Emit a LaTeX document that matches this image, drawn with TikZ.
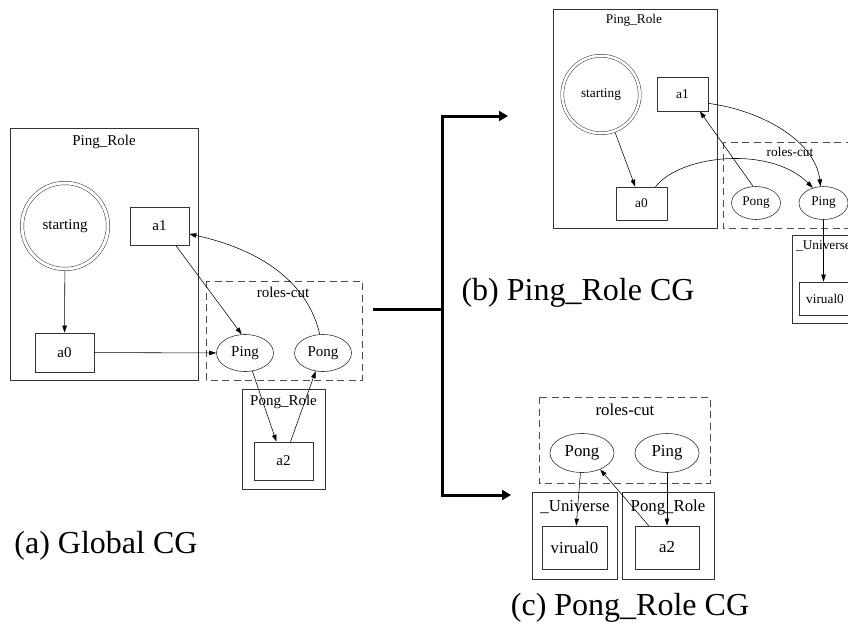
\documentclass[tikz,border=0pt]{standalone}
\usepackage{fontspec}
\setmainfont{Liberation Serif}
\usetikzlibrary{arrows.meta,shapes.geometric}
\begin{document}
\begin{tikzpicture}[x=1pt,y=-1pt,
  ln/.style={draw=black!80, line width=0.6pt},
  cluster/.style={ln},
  cutbox/.style={draw=black!70, line width=0.6pt, dash pattern=on 7pt off 4.5pt},
  box/.style={ln, rectangle, inner sep=0pt},
  oval/.style={ln, ellipse, inner sep=0pt},
  startc/.style={draw=black!80, line width=0.5pt, circle, double, double distance=3pt, inner sep=0pt, outer sep=2pt},
  edge/.style={draw=black, line width=0.55pt, -{Triangle[length=7pt,width=4.5pt]}},
  big/.style={font=\fontsize{32}{36}\selectfont, inner sep=0pt, anchor=base},
  fa/.style={font=\fontsize{15}{17}\selectfont},
  fb/.style={font=\fontsize{13.3}{15}\selectfont},
  fc/.style={font=\fontsize{16.8}{19}\selectfont},
  bigarrow/.style={line width=3pt, -{Triangle[length=9pt,width=10pt]}}
]
\useasboundingbox (0,0) rectangle (848,624);
\clip (0,0) rectangle (848,624);

% ---------- (a) Global CG ----------
\draw[cluster] (10,128) rectangle (198,380);
\node[fa, anchor=base, inner sep=0pt] (lprA) at (104,145) {Ping\_Role};
\node[startc, fa, minimum size=86pt] (sA) at (65,226) {starting};
\node[box, fa, minimum width=59pt, minimum height=38pt] (a1A) at (159.5,226) {a1};
\node[box, fa, minimum width=59pt, minimum height=39pt] (a0A) at (64.5,352.5) {a0};
\draw[cutbox] (206,281) rectangle (362,380);
\node[fa, anchor=base, inner sep=0pt] (lrcA) at (283,297) {roles-cut};
\node[oval, fa, minimum width=57pt, minimum height=37pt] (piA) at (245,353) {Ping};
\node[oval, fa, minimum width=57pt, minimum height=37pt] (poA) at (323,353) {Pong};
\draw[cluster] (242,389) rectangle (325,489);
\node[fa, anchor=base, inner sep=0pt] (lporA) at (283.5,405) {Pong\_Role};
\node[box, fa, minimum width=59pt, minimum height=38pt] (a2A) at (283.5,461) {a2};

\draw[edge] (sA) -- (a0A);
\draw[edge] (a0A) -- (piA);
\draw[edge] (a1A.-50) -- (piA.100);
\draw[edge] (poA.100) .. controls (305,270) and (240,245) .. (a1A.-15);
\draw[edge] (piA.-68) -- (a2A.110);
\draw[edge] (a2A.70) -- (poA.-112);

\node[big] (capA) at (106,553) {(a) Global CG};

% ---------- (b) Ping_Role CG ----------
\draw[cluster] (553,9) rectangle (717,228);
\node[fb, anchor=base, inner sep=0pt] (lprB) at (634,23) {Ping\_Role};
\node[startc, fb, minimum size=77.5pt, double distance=2.5pt] (sB) at (601,94.5) {starting};
\node[box, fb, minimum width=51pt, minimum height=34pt] (a1B) at (682.5,94) {a1};
\node[box, fb, minimum width=51pt, minimum height=33pt] (a0B) at (641.5,203.5) {a0};
\draw[cutbox] (723,142) rectangle (880,228);
\node[fb, anchor=base, inner sep=0pt] (lrcB) at (790,156) {roles-cut};
\node[oval, fb, minimum width=49pt, minimum height=33pt] (poB) at (756,203) {Pong};
\node[oval, fb, minimum width=49pt, minimum height=33pt] (piB) at (823.5,203) {Ping};
\draw[cluster] (792,235) rectangle (880,323);
\node[fb, anchor=base west, inner sep=0pt] (luB) at (796,249) {\_Universe};
\node[box, fb, minimum width=52pt, minimum height=33pt] (v0B) at (825,298.5) {virual0};

\draw[edge] (sB) -- (a0B);
\draw[edge] (a0B.50) .. controls (680,155) and (770,145) .. (piB.125);
\draw[edge] (a1B.-20) .. controls (760,110) and (815,140) .. (piB.100);
\draw[edge] (poB.100) -- (a1B.-45);
\draw[edge] (piB.south) -- (piB.south |- v0B.north);

\node[big] (capB) at (578,300) {(b) Ping\_Role CG};

% ---------- (c) Pong_Role CG ----------
\draw[cutbox] (539,397) rectangle (710,483);
\node[fc, anchor=base, inner sep=0pt] (lrcC) at (625,415) {roles-cut};
\node[oval, fc, minimum width=64pt, minimum height=39pt] (poC) at (582,453) {Pong};
\node[oval, fc, minimum width=64pt, minimum height=39pt] (piC) at (667,453) {Ping};
\draw[cluster] (532,492) rectangle (617,579);
\node[fc, anchor=base, inner sep=0pt] (luC) at (575,511) {\_Universe};
\node[box, fc, minimum width=65pt, minimum height=43pt] (v0C) at (574.5,547.5) {virual0};
\draw[cluster] (622,492) rectangle (714,579);
\node[fc, anchor=base, inner sep=0pt] (lporC) at (668,511) {Pong\_Role};
\node[box, fc, minimum width=64pt, minimum height=43pt] (a2C) at (667,547.5) {a2};

\draw[edge] (poC) -- (v0C);
\draw[edge] (piC) -- (a2C);
\draw[edge] (a2C.130) -- (poC.-42);

\node[big] (capC) at (630,615) {(c) Pong\_Role CG};

% ---------- splitting arrows ----------
\coordinate (fromA) at (373,309);
\coordinate (split) at (442,309);
\coordinate (toB) at (508,116);
\coordinate (toC) at (511,495);
\draw[bigarrow] (fromA) -- (split) |- (toB);
\draw[bigarrow] (split) |- (toC);
\end{tikzpicture}
\end{document}
